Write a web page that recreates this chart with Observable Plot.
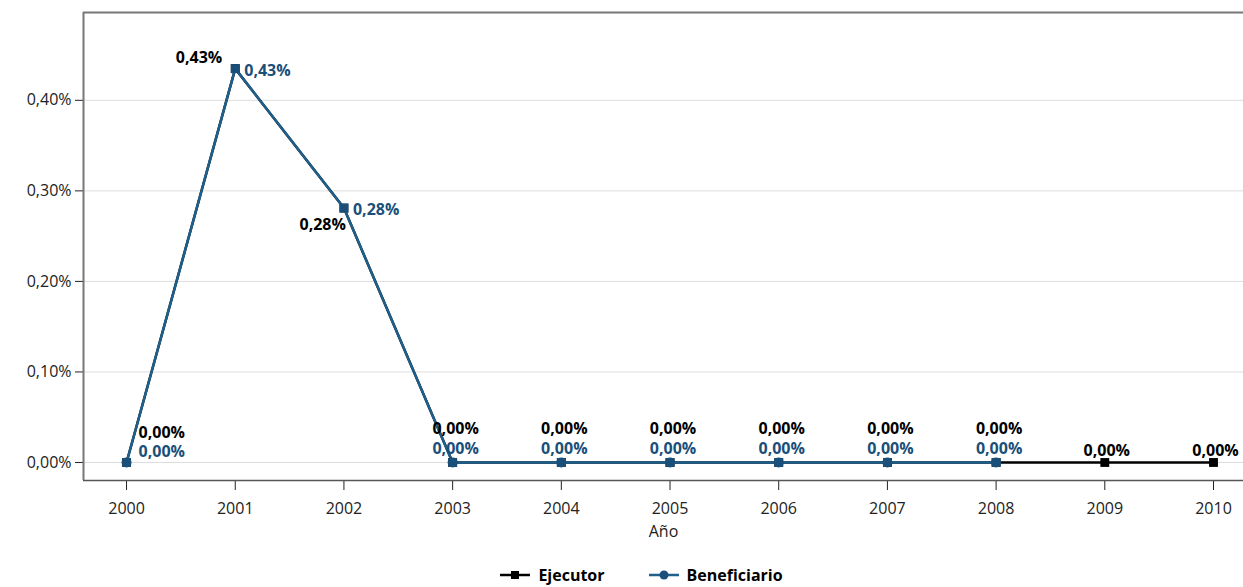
<!DOCTYPE html>
<html><head><meta charset="utf-8">
<script src="https://cdn.jsdelivr.net/npm/d3@7"></script>
<script src="https://cdn.jsdelivr.net/npm/@observablehq/plot@0.6"></script>
<style>
body{margin:0;background:#fff;font-family:"Open Sans",sans-serif}
#legend{display:flex;justify-content:center;gap:44px;font-weight:bold;font-size:16px;margin-top:2px;margin-left:40px}
#legend span{display:flex;align-items:center;gap:8px}
</style></head><body>
<div id="chart"></div>
<div id="legend">
<span><svg width="30" height="12"><line x1="0" y1="6" x2="30" y2="6" stroke="#000" stroke-width="2.5"/><rect x="11" y="2" width="8" height="8" fill="#000"/></svg>Ejecutor</span>
<span><svg width="30" height="12"><line x1="0" y1="6" x2="30" y2="6" stroke="#1f5f8b" stroke-width="2.5"/><circle cx="15" cy="6" r="4.5" fill="#1a4f7a"/></svg>Beneficiario</span>
</div>
<script>
const years = [2000,2001,2002,2003,2004,2005,2006,2007,2008,2009,2010];
const ejecutor = [0,0.435,0.281,0,0,0,0,0,0,0,0];
const beneficiarioYears = [2000,2001,2002,2003,2004,2005,2006,2007,2008];
const beneficiario = [0,0.435,0.281,0,0,0,0,0,0];
const yTicks = [0,0.1,0.2,0.3,0.4];

const fmt = v => v.toFixed(2).replace(".", ",") + "%";
const ej = years.map((y,i)=>({year:y, v:ejecutor[i], i}));
const be = beneficiarioYears.map((y,i)=>({year:y, v:beneficiario[i], i}));
const blue = "#1f5f8b", blueText = "#1a4f7a";

// label placement per point: [dx, dy, anchor]
const ejPos = i => i===1 ? [-13,-11,"end"] : i===2 ? [2,17,"end"] : i===0 ? [12,-30,"start"] : i>=9 ? [2,-12,"middle"] : [3,-34,"middle"];
const bePos = i => (i===1||i===2) ? [9,2,"start"] : i===0 ? [12,-11,"start"] : [3,-14,"middle"];

const textMarks = [];
ej.forEach(d=>{
  const [dx,dy,a] = ejPos(d.i);
  textMarks.push(Plot.text([d],{x:"year",y:"v",text:d=>fmt(d.v),dx,dy,textAnchor:a,fill:"#000",fontWeight:"bold",fontSize:16}));
});
be.forEach(d=>{
  const [dx,dy,a] = bePos(d.i);
  textMarks.push(Plot.text([d],{x:"year",y:"v",text:d=>fmt(d.v),dx,dy,textAnchor:a,fill:blueText,fontWeight:"bold",fontSize:16}));
});

const chart = Plot.plot({
  width:1243, height:562,
  marginTop:12, marginBottom:82, marginLeft:83, marginRight:0,
  style:{fontFamily:"Open Sans, sans-serif", fontSize:"16px", color:"#222"},
  x:{domain:[1999.604,2010.276], ticks:years, tickFormat:d=>String(d), label:"Año", labelAnchor:"center", labelArrow:"none", tickSize:10, tickPadding:12, labelOffset:56},
  y:{domain:[-0.0199,0.497], ticks:yTicks, tickFormat:fmt, label:null, tickSize:8, tickPadding:4},
  marks:[
    Plot.gridY(yTicks,{stroke:"#ddd",strokeOpacity:1}),
    Plot.ruleY([-0.0199],{stroke:"#555",strokeWidth:1.5}),
    Plot.ruleX([1999.604],{stroke:"#777",strokeWidth:2}),
    Plot.ruleY([0.497],{stroke:"#777",strokeWidth:2}),
    Plot.line(ej,{x:"year",y:"v",stroke:"#000",strokeWidth:2.5}),
    Plot.dot(ej,{x:"year",y:"v",symbol:"square",r:5,fill:"#000"}),
    Plot.line(be,{x:"year",y:"v",stroke:blue,strokeWidth:2.5}),
    Plot.dot(be,{x:"year",y:"v",symbol:"square",r:5,fill:blueText}),
    Plot.dot(be.filter(d=>d.v===0),{x:"year",y:"v",r:5,fill:blueText}),
    ...textMarks
  ]
});
document.getElementById("chart").append(chart);
</script></body></html>
